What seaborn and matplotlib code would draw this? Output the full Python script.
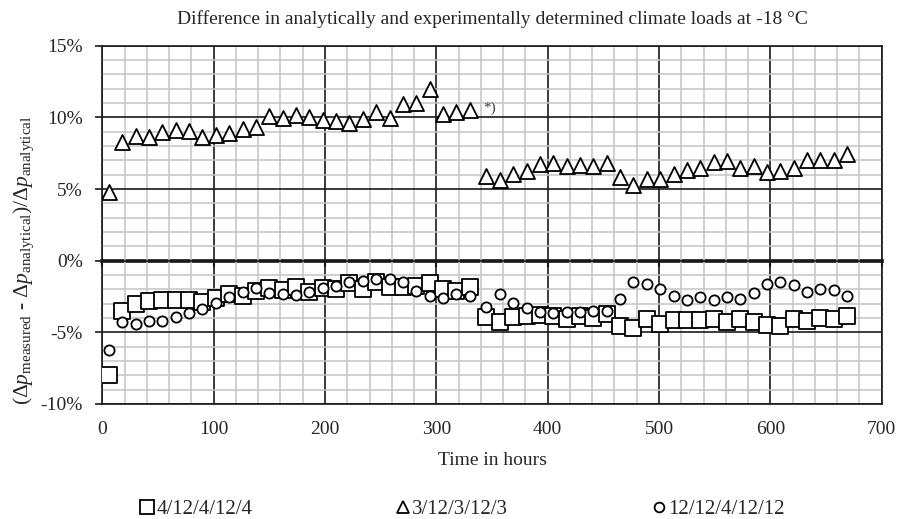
import matplotlib
matplotlib.use('Agg')
import matplotlib.pyplot as plt
import seaborn as sns
from matplotlib.ticker import MultipleLocator, FuncFormatter
from matplotlib.lines import Line2D

# ---- data ----
hours = [6, 18, 30, 42, 54, 66, 78, 90, 102, 114, 126, 138, 150, 162, 174, 186,
         198, 210, 222, 234, 246, 258, 270, 282, 294, 306, 318, 330,
         345, 357, 369, 381, 393, 405, 417, 429, 441, 453, 465, 477, 489, 501,
         513, 525, 537, 549, 561, 573, 585, 597, 609, 621, 633, 645, 657, 669]

sq_4_12 = [-7.96, -3.49, -3.05, -2.84, -2.74, -2.74, -2.74, -2.91, -2.60, -2.32,
           -2.44, -2.09, -1.93, -2.02, -1.86, -2.21, -1.91, -1.97, -1.58, -2.00,
           -1.51, -1.81, -1.81, -1.74, -1.58, -1.97, -2.09, -1.86,
           -3.95, -4.25, -3.95, -3.84, -3.77, -3.84, -4.07, -3.84, -4.02, -3.72,
           -4.58, -4.72, -4.04, -4.42, -4.14, -4.14, -4.14, -4.09, -4.25, -4.09,
           -4.30, -4.49, -4.53, -4.09, -4.19, -4.00, -4.07, -3.84]

tri_3_12 = [4.80, 8.27, 8.69, 8.64, 8.97, 9.09, 9.02, 8.62, 8.76, 8.92,
            9.16, 9.34, 10.09, 9.97, 10.20, 10.01, 9.80, 9.73, 9.62, 9.90,
            10.39, 9.97, 10.95, 11.02, 11.95, 10.25, 10.36, 10.48,
            5.90, 5.62, 6.04, 6.25, 6.76, 6.83, 6.64, 6.66, 6.64, 6.83,
            5.83, 5.27, 5.67, 5.67, 6.06, 6.36, 6.48, 6.88, 6.95, 6.48,
            6.64, 6.18, 6.25, 6.48, 7.01, 7.06, 7.01, 7.41]

circ_12_12 = [-6.23, -4.30, -4.42, -4.19, -4.19, -3.91, -3.63, -3.40, -2.93, -2.51,
              -2.21, -1.93, -2.23, -2.35, -2.42, -2.16, -1.93, -1.74, -1.46, -1.39,
              -1.28, -1.30, -1.51, -2.09, -2.44, -2.63, -2.35, -2.44,
              -3.25, -2.32, -2.98, -3.28, -3.56, -3.63, -3.56, -3.56, -3.51, -3.49,
              -2.65, -1.51, -1.65, -1.97, -2.46, -2.74, -2.51, -2.74, -2.51, -2.70,
              -2.28, -1.63, -1.46, -1.70, -2.21, -1.97, -2.05, -2.46]

labels = ["4/12/4/12/4", "3/12/3/12/3", "12/12/4/12/12"]

# ---- style ----
sns.set_style('white')
plt.rcParams['font.family'] = ['Liberation Serif', 'DejaVu Serif']
plt.rcParams['mathtext.fontset'] = 'custom'
plt.rcParams['mathtext.rm'] = 'Liberation Serif'
plt.rcParams['mathtext.it'] = 'Liberation Serif:italic'

FS = 14
YLO, YHI = -10, 15

fig = plt.figure(figsize=(9.09, 5.19), dpi=100)
ax = fig.add_axes([0.1125, 0.2216, 0.8575, 0.6903])

mk = dict(color='white', edgecolor='black', linewidth=1.3, zorder=3, legend=False)
sns.scatterplot(x=hours, y=sq_4_12, marker='s', s=117, ax=ax, **mk)
sns.scatterplot(x=hours, y=tri_3_12, marker='^', s=117, ax=ax, **mk)
sns.scatterplot(x=hours, y=circ_12_12, marker='o', s=54, ax=ax, **mk)

ax.text(342, 10.65, '*)', fontsize=11, color='#444444', ha='left', va='center')

ax.set_xlim(0, 700)
ax.set_ylim(YLO, YHI)
ax.xaxis.set_major_locator(MultipleLocator(100))
ax.xaxis.set_minor_locator(MultipleLocator(20))
ax.yaxis.set_major_locator(MultipleLocator(5))
ax.yaxis.set_minor_locator(MultipleLocator(1))
ax.yaxis.set_major_formatter(FuncFormatter(lambda v, _: f"{v:.0f}%"))

ax.set_axisbelow(True)
ax.grid(which='minor', color='#c4c4c4', lw=1.1)
ax.grid(which='major', color='#1a1a1a', lw=1.2)
for sp in ax.spines.values():
    sp.set_color('#1a1a1a')
    sp.set_linewidth(1.2)

ax.tick_params(axis='x', which='both', length=0, pad=12, labelsize=FS)
ax.tick_params(axis='y', which='major', length=5, width=1.2, direction='out',
               color='#1a1a1a', pad=9, labelsize=FS, left=True)
ax.tick_params(axis='y', which='minor', length=0)

# thick zero line with small tick marks, like the crossing axis in the source
zero_ax = ax.secondary_xaxis((0 - YLO) / (YHI - YLO))
zero_ax.xaxis.set_major_locator(MultipleLocator(100))
zero_ax.tick_params(length=4, width=1.5, direction='out', labelbottom=False,
                    color='#111111')
zero_ax.spines['bottom'].set_linewidth(2.6)
zero_ax.spines['bottom'].set_color('#111111')

ax.set_title('Difference in analytically and experimentally determined climate loads at -18 °C',
             fontsize=FS, pad=16)
ax.set_xlabel('Time in hours', fontsize=FS, labelpad=10)
ax.set_ylabel(r'$(\Delta p_{\mathrm{measured}}$ - $\Delta p_{\mathrm{analytical}})/\Delta p_{\mathrm{analytical}}$',
              fontsize=15.5)
ax.yaxis.set_label_coords(-0.085, 0.40)

handles = [
    Line2D([], [], ls='none', marker='s', ms=10, mfc='white', mec='black', mew=1.3),
    Line2D([], [], ls='none', marker='^', ms=8, mfc='white', mec='black', mew=1.3),
    Line2D([], [], ls='none', marker='o', ms=7, mfc='white', mec='black', mew=1.3),
]
fig.legend(handles, labels, loc='center', bbox_to_anchor=(0.5085, 1 - 509 / 519),
           ncol=3, frameon=False, fontsize=15, handlelength=0.65, handletextpad=0.12,
           columnspacing=6.9)

fig.savefig('out.png', dpi=100)
